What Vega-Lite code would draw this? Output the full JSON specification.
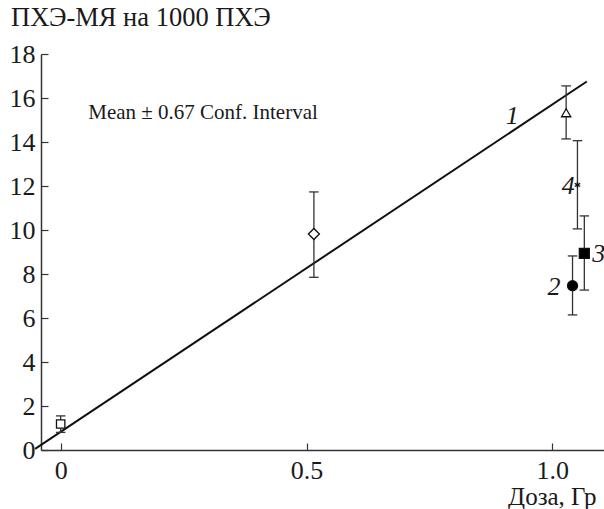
{
  "$schema": "https://vega.github.io/schema/vega-lite/v6.json",
  "width": 563,
  "height": 396,
  "autosize": {"type": "none"},
  "padding": {"left": 41, "top": 54, "right": 0, "bottom": 59},
  "background": "white",
  "config": {"view": {"stroke": null}, "font": "Liberation Serif"},
  "title": {"text": "ПХЭ-МЯ на 1000 ПХЭ", "anchor": "start", "frame": "group", "dx": -30, "offset": 10, "fontSize": 26.5, "fontWeight": "normal", "font": "Liberation Serif", "color": "#1a1a1a"},
  "datasets": {
    "pts": [
      {"dose": 0, "mean": 1.18, "lo": 0.8, "hi": 1.55, "shape": "square", "fill": "white", "size": 70},
      {"dose": 0.515, "mean": 9.82, "lo": 7.85, "hi": 11.73, "shape": "diamond", "fill": "white", "size": 121},
      {"dose": 1.028, "mean": 15.33, "lo": 14.14, "hi": 16.55, "shape": "triangle-up", "fill": "white", "size": 85},
      {"dose": 1.041, "mean": 7.47, "lo": 6.14, "hi": 8.82, "shape": "circle", "fill": "black", "size": 100},
      {"dose": 1.065, "mean": 8.94, "lo": 7.27, "hi": 10.64, "shape": "square", "fill": "black", "size": 100},
      {"dose": 1.051, "mean": 12.05, "lo": 10.05, "hi": 14.06, "shape": "M0,-1V1M-0.87,-0.5L0.87,0.5M-0.87,0.5L0.87,-0.5", "fill": "none", "size": 40}
    ],
    "fit": [
      {"dose": -0.052, "val": 0.05},
      {"dose": 1.07, "val": 16.75}
    ],
    "labels": [
      {"dose": 0.905, "val": 15.2, "label": "1"},
      {"dose": 0.99, "val": 7.4, "label": "2"},
      {"dose": 1.081, "val": 8.9, "label": "3"},
      {"dose": 1.019, "val": 12.0, "label": "4"}
    ],
    "note": [
      {"dose": 0.056, "val": 15.3, "label": "Mean ± 0.67 Conf. Interval"}
    ]
  },
  "layer": [
    {
      "data": {"name": "fit"},
      "mark": {"type": "line", "color": "#111", "strokeWidth": 2},
      "encoding": {
        "x": {"field": "dose", "type": "quantitative", "scale": {"domain": [-0.04, 1.105], "nice": false, "zero": false},
          "axis": {"values": [0, 0.5, 1.0], "labelExpr": "datum.value == 0 ? '0' : format(datum.value, '.1f')", "grid": false,
            "domainColor": "#333", "domainWidth": 1.5, "tickColor": "#333", "tickWidth": 1.2, "tickSize": -7,
            "labelFontSize": 26, "labelFont": "Liberation Serif", "labelColor": "#1a1a1a", "labelPadding": 14,
            "title": "Доза, Гр", "titleFont": "Liberation Serif", "titleFontSize": 25, "titleFontWeight": "normal", "titleColor": "#1a1a1a",
            "titleAnchor": "end", "titleAlign": "right", "titleX": 555, "titleY": 54, "titleBaseline": "alphabetic"}},
        "y": {"field": "val", "type": "quantitative", "scale": {"domain": [0, 18], "nice": false},
          "axis": {"values": [0, 2, 4, 6, 8, 10, 12, 14, 16, 18], "grid": false,
            "domainColor": "#333", "domainWidth": 1.5, "tickColor": "#333", "tickWidth": 1.2, "tickSize": -7,
            "labelFontSize": 26, "labelFont": "Liberation Serif", "labelColor": "#1a1a1a", "labelPadding": 13,
            "title": null}}
      }
    },
    {
      "data": {"name": "pts"},
      "mark": {"type": "rule", "color": "#333", "strokeWidth": 1.3},
      "encoding": {
        "x": {"field": "dose", "type": "quantitative"},
        "y": {"field": "lo", "type": "quantitative"},
        "y2": {"field": "hi"}
      }
    },
    {
      "data": {"name": "pts"},
      "mark": {"type": "point", "shape": "M-1,0H1", "size": 90, "stroke": "#333", "strokeWidth": 1.3, "opacity": 1, "fill": null},
      "encoding": {
        "x": {"field": "dose", "type": "quantitative"},
        "y": {"field": "lo", "type": "quantitative"}
      }
    },
    {
      "data": {"name": "pts"},
      "mark": {"type": "point", "shape": "M-1,0H1", "size": 90, "stroke": "#333", "strokeWidth": 1.3, "opacity": 1, "fill": null},
      "encoding": {
        "x": {"field": "dose", "type": "quantitative"},
        "y": {"field": "hi", "type": "quantitative"}
      }
    },
    {
      "data": {"name": "pts"},
      "mark": {"type": "point", "stroke": "#111", "strokeWidth": 1.3, "opacity": 1, "filled": false},
      "encoding": {
        "x": {"field": "dose", "type": "quantitative"},
        "y": {"field": "mean", "type": "quantitative"},
        "shape": {"field": "shape", "type": "nominal", "scale": null},
        "fill": {"field": "fill", "type": "nominal", "scale": null},
        "size": {"field": "size", "type": "quantitative", "scale": null}
      }
    },
    {
      "data": {"name": "labels"},
      "mark": {"type": "text", "font": "Liberation Serif", "fontStyle": "italic", "fontSize": 26, "color": "#1a1a1a", "align": "left", "baseline": "middle"},
      "encoding": {
        "x": {"field": "dose", "type": "quantitative"},
        "y": {"field": "val", "type": "quantitative"},
        "text": {"field": "label"}
      }
    },
    {
      "data": {"name": "note"},
      "mark": {"type": "text", "font": "Liberation Serif", "fontSize": 21, "color": "#1a1a1a", "align": "left", "baseline": "middle"},
      "encoding": {
        "x": {"field": "dose", "type": "quantitative"},
        "y": {"field": "val", "type": "quantitative"},
        "text": {"field": "label"}
      }
    }
  ]
}
